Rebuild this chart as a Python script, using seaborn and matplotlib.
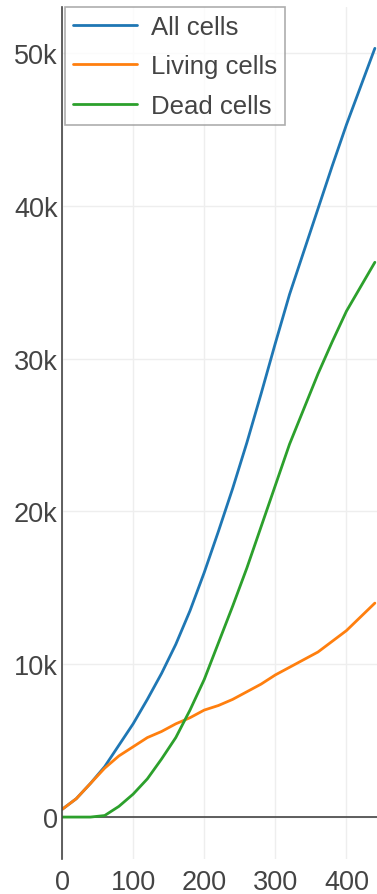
import numpy as np
import pandas as pd
import matplotlib
matplotlib.use("Agg")
import matplotlib.pyplot as plt
import seaborn as sns
from matplotlib.ticker import FuncFormatter

# time steps and cell counts
steps = [0, 20, 40, 60, 80, 100, 120, 140, 160, 180, 200, 220,
         240, 260, 280, 300, 320, 340, 360, 380, 400, 420, 440]
all_cells = [500, 1200, 2200, 3300, 4700, 6100, 7700, 9400, 11300, 13500, 16000, 18700,
             21500, 24500, 27700, 31000, 34200, 37000, 39800, 42600, 45300, 47800, 50300]
living_cells = [500, 1200, 2200, 3200, 4000, 4600, 5200, 5600, 6100, 6500, 7000, 7300,
                7700, 8200, 8700, 9300, 9800, 10300, 10800, 11500, 12200, 13100, 14000]
dead_cells = [0, 0, 0, 100, 700, 1500, 2500, 3800, 5200, 7000, 9000, 11400,
              13800, 16300, 19000, 21700, 24400, 26700, 29000, 31100, 33100, 34700, 36300]

series = ["All cells", "Living cells", "Dead cells"]
colors = ["#1f77b4", "#ff7f0e", "#2ca02c"]

df = pd.DataFrame({"step": steps * 3,
                   "cells": all_cells + living_cells + dead_cells,
                   "kind": np.repeat(series, len(steps))})

sns.set_style("white")
plt.rcParams["font.family"] = ["Liberation Sans", "DejaVu Sans"]

fig = plt.figure(figsize=(3.77, 8.95), dpi=100)
ax = fig.add_axes([0.1645, 0.039, 0.8355, 0.952])

sns.lineplot(data=df, x="step", y="cells", hue="kind", hue_order=series,
             palette=colors, linewidth=2, ax=ax)

ax.set_xlim(0, 443)
ax.set_ylim(-2750, 53000)
ax.set_xticks([0, 100, 200, 300, 400])
ax.set_yticks([0, 10000, 20000, 30000, 40000, 50000])
ax.yaxis.set_major_formatter(FuncFormatter(lambda v, p: "0" if v == 0 else f"{int(v/1000)}k"))
ax.grid(True, color="#eeeeee", linewidth=1)
ax.set_axisbelow(True)
ax.axhline(0, color="#444444", linewidth=1.2, zorder=1.5)
ax.set_xlabel("")
ax.set_ylabel("")
ax.tick_params(length=0, labelsize=19.5, colors="#444444")
ax.tick_params(axis="y", pad=3)
ax.tick_params(axis="x", pad=7)
for s in ["top", "right", "bottom"]:
    ax.spines[s].set_visible(False)
ax.spines["left"].set_color("#444444")
ax.spines["left"].set_linewidth(1.2)

leg = ax.legend(loc="upper left", bbox_to_anchor=(0.01, 1.0), borderaxespad=0,
                fontsize=18.5, frameon=True, fancybox=False, handlelength=2.5,
                labelspacing=0.6, borderpad=0.3, handletextpad=0.55)
leg.get_frame().set_edgecolor("#999999")
leg.get_frame().set_linewidth(1.2)
for t in leg.get_texts():
    t.set_color("#444444")

fig.savefig("out.png", dpi=100)
